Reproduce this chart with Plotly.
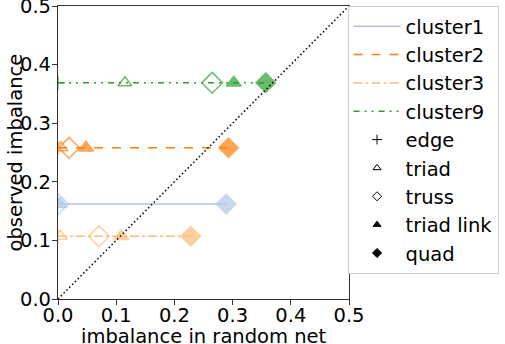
import plotly.graph_objects as go

clusters = ["cluster1", "cluster2", "cluster3", "cluster9"]
colors = ["#aec7e8", "#ff7f0e", "#ffbb78", "#2ca02c"]
dashes = ["solid", "dash", "dashdot", "6px,5px,2px,5px,2px,5px"]
observed = [0.162, 0.258, 0.107, 0.369]

measures = ["edge", "triad", "truss", "triad link", "quad"]
symbols = ["cross-thin", "triangle-up-open", "diamond-open", "triangle-up", "diamond"]

# random-net imbalance per cluster: edge, triad, truss, triad link, quad
random_vals = {
    "cluster1": [0.0, 0.004, 0.0, 0.001, 0.289],
    "cluster2": [0.0, 0.005, 0.019, 0.048, 0.293],
    "cluster3": [0.0, 0.004, 0.0705, 0.109, 0.228],
    "cluster9": [0.0, 0.115, 0.265, 0.302, 0.357],
}

diag = [0.0, 0.5]
ticks = [0, 0.1, 0.2, 0.3, 0.4, 0.5]
tick_labels = ["0.0", "0.1", "0.2", "0.3", "0.4", "0.5"]

FONT = "DejaVu Sans"
FS = 19.5
fig = go.Figure()

for i, c in enumerate(clusters):
    xs = random_vals[c]
    ys = [observed[i]] * len(xs)
    fig.add_trace(go.Scatter(
        x=[min(xs), max(xs)], y=[observed[i], observed[i]], mode="lines",
        name=c, legendgroup=c,
        line=dict(color=colors[i], width=1.5, dash=dashes[i]),
    ))
    sizes = [10, 12, 16, 13, 15]
    fig.add_trace(go.Scatter(
        x=xs, y=ys, mode="markers", showlegend=False,
        marker=dict(symbol=symbols, size=sizes, color=colors[i],
                    line=dict(color=colors[i], width=1.5)),
    ))

for m, s in zip(measures, symbols):
    fig.add_trace(go.Scatter(
        x=[None], y=[None], mode="markers", name=m, legendgroup=m,
        marker=dict(symbol=s, size=7, color="black",
                    line=dict(color="black", width=1)),
    ))

fig.add_trace(go.Scatter(
    x=diag, y=diag, mode="lines", showlegend=False,
    line=dict(color="black", width=1.5, dash="1.5px,2.5px"),
))

axis_common = dict(
    range=[0, 0.5], tickvals=ticks, ticktext=tick_labels,
    showgrid=False, zeroline=False, showline=True, linecolor="#333333",
    linewidth=1.2, mirror=True, ticks="outside", ticklen=5, tickwidth=1.2,
    tickcolor="#333333", tickfont=dict(size=FS, color="black", family=FONT),
    automargin=False, ticklabeloverflow="allow",
)

fig.update_layout(
    width=505, height=344,
    margin=dict(l=58, r=156, t=6, b=45),
    paper_bgcolor="white", plot_bgcolor="white",
    font=dict(family=FONT, size=FS, color="black"),
    xaxis=dict(**axis_common, ticklabelstandoff=-7),
    yaxis=dict(**axis_common, ticklabelstandoff=-3),
    legend=dict(x=0.995, y=1.0, xanchor="left", yanchor="top",
                bordercolor="#cccccc", borderwidth=1, bgcolor="white",
                font=dict(size=FS, family=FONT), tracegroupgap=0,
                itemwidth=47, maxheight=340),
    showlegend=True,
    annotations=[
        dict(text="imbalance in random net", xref="paper", yref="paper",
             x=0.5, y=-(323 - 299) / 293, xanchor="center", yanchor="top",
             showarrow=False, font=dict(size=FS, family=FONT)),
        dict(text="observed imbalance", xref="paper", yref="paper",
             x=-(58 - 15) / 291, y=0.5, xanchor="center", yanchor="middle",
             textangle=-90, showarrow=False, font=dict(size=FS, family=FONT)),
    ],
)

fig.write_html("out.html", config={"displayModeBar": False},
               post_script="document.body.style.margin='0';")
